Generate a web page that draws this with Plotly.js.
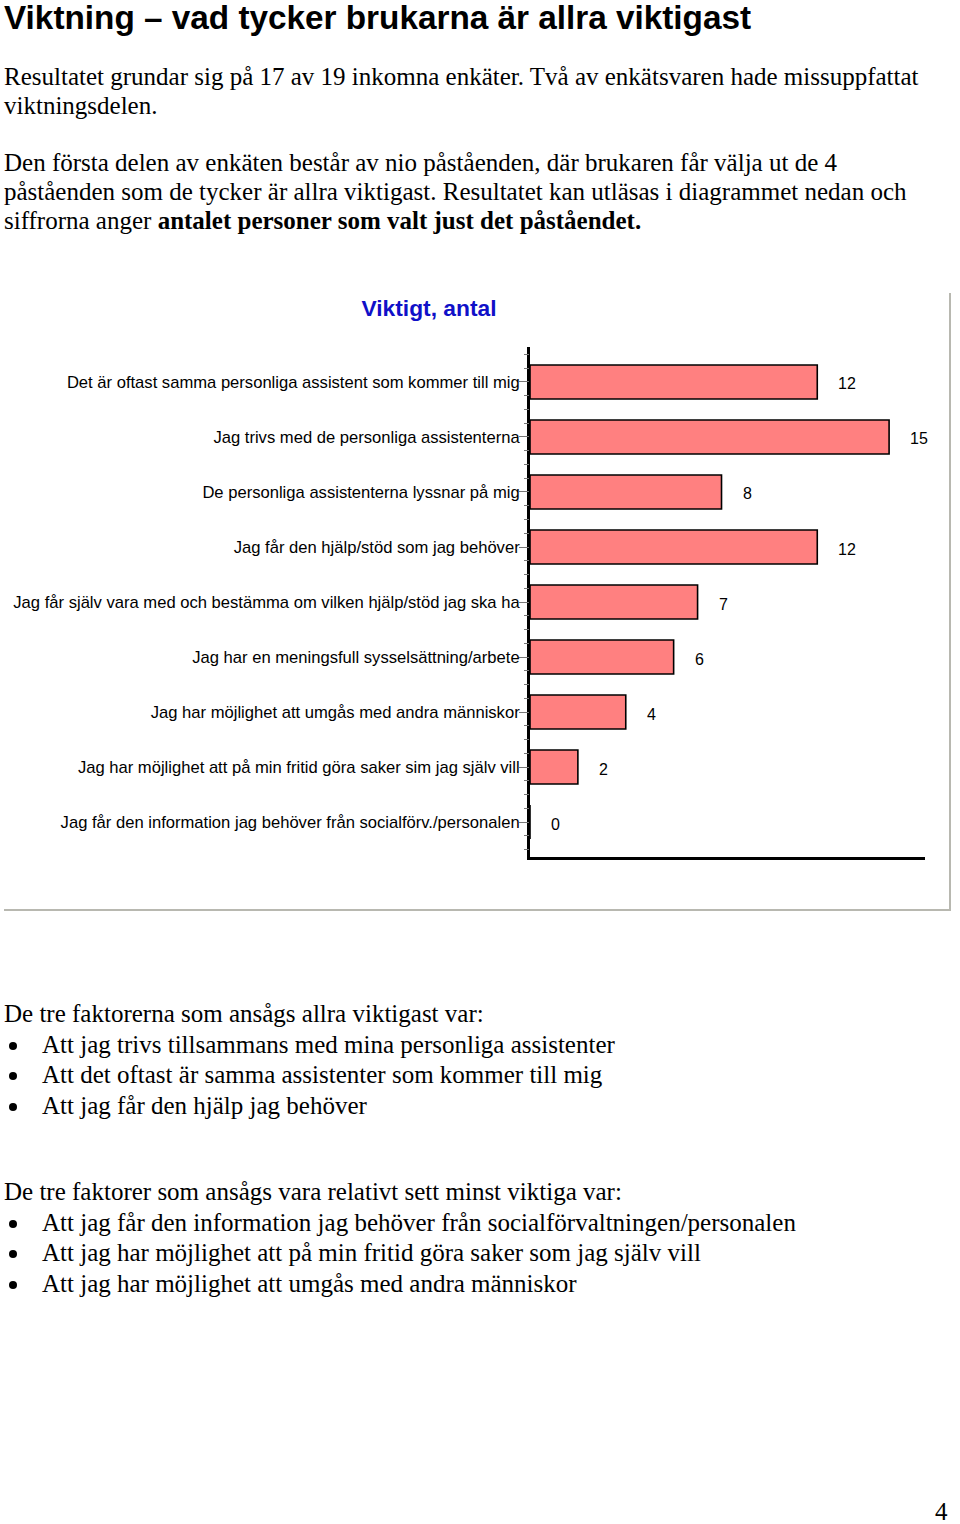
<!DOCTYPE html>
<html>
<head>
<meta charset="utf-8">
<script src="https://cdn.plot.ly/plotly-3.0.1.min.js"></script>
<style>
  body { margin: 0; width: 960px; height: 1524px; position: relative; background: #fff; overflow: hidden; }
  .txt { position: absolute; left: 4px; font-family: "Liberation Serif", "Times New Roman", serif; font-size: 25px; line-height: 29px; color: #000; white-space: nowrap; }
  .lst { line-height: 30.7px; }
  h1 { position: absolute; left: 4px; top: -2px; margin: 0; font-family: "Liberation Sans", Arial, sans-serif; font-size: 33.3px; line-height: 40px; font-weight: bold; white-space: nowrap; }
  ul { margin: 0; padding: 0; list-style: none; }
  ul li { position: relative; padding-left: 38px; }
  ul li:before { content: ""; position: absolute; left: 5px; top: 12px; width: 8px; height: 8px; border-radius: 50%; background: #000; }
  #frame { position: absolute; left: 4px; top: 293px; width: 945px; height: 616px; border-right: 2px solid #b8b8b0; border-bottom: 2px solid #b8b8b0; }
  #chart { position: absolute; left: 0; top: 280px; width: 960px; height: 640px; }
  #pagenr { position: absolute; left: 935px; top: 1498px; font-family: "Liberation Serif", serif; font-size: 25px; }
</style>
</head>
<body>
<h1>Viktning – vad tycker brukarna är allra viktigast</h1>
<div class="txt" style="top:62px">Resultatet grundar sig på 17 av 19 inkomna enkäter. Två av enkätsvaren hade missuppfattat<br>viktningsdelen.</div>
<div class="txt" style="top:148px">Den första delen av enkäten består av nio påståenden, där brukaren får välja ut de 4<br>påståenden som de tycker är allra viktigast. Resultatet kan utläsas i diagrammet nedan och<br>siffrorna anger <b>antalet personer som valt just det påståendet.</b></div>
<div id="frame"></div>
<div id="chart"></div>
<div class="txt lst" style="top:999px">De tre faktorerna som ansågs allra viktigast var:
<ul>
<li>Att jag trivs tillsammans med mina personliga assistenter</li>
<li>Att det oftast är samma assistenter som kommer till mig</li>
<li>Att jag får den hjälp jag behöver</li>
</ul></div>
<div class="txt lst" style="top:1177px">De tre faktorer som ansågs vara relativt sett minst viktiga var:
<ul>
<li>Att jag får den information jag behöver från socialförvaltningen/personalen</li>
<li>Att jag har möjlighet att på min fritid göra saker som jag själv vill</li>
<li>Att jag har möjlighet att umgås med andra människor</li>
</ul></div>
<div id="pagenr">4</div>
<script>
var statements = [
  'Det är oftast samma personliga assistent som kommer till mig',
  'Jag trivs med de personliga assistenterna',
  'De personliga assistenterna lyssnar på mig',
  'Jag får den hjälp/stöd som jag behöver',
  'Jag får själv vara med och bestämma om vilken hjälp/stöd jag ska ha',
  'Jag har en meningsfull sysselsättning/arbete',
  'Jag har möjlighet att umgås med andra människor',
  'Jag har möjlighet att på min fritid göra saker sim jag själv vill',
  'Jag får den information jag behöver från socialförv./personalen'
];
var antal = [12, 15, 8, 12, 7, 6, 4, 2, 0];

var labelFont = { family: 'Liberation Sans, Arial, sans-serif', size: 16.6, color: '#000' };
var yRange = [statements.length - 1 + 0.636, -0.636];

var data = [{
  type: 'bar',
  orientation: 'h',
  x: antal,
  y: statements,
  width: 0.62,
  marker: { color: '#ff8080', line: { color: '#000', width: 1.6 } },
  hoverinfo: 'x+y'
}];

// value labels to the right of each bar
var notes = antal.map(function (v, i) {
  return {
    x: v, y: statements[i], xref: 'x', yref: 'y',
    text: String(v), showarrow: false,
    xanchor: 'left', xshift: 19, yshift: -2,
    font: { family: labelFont.family, size: 16, color: '#000' }
  };
});

var layout = {
  width: 960,
  height: 640,
  margin: { l: 530, r: 35, t: 67, b: 63 },
  paper_bgcolor: 'rgba(0,0,0,0)',
  plot_bgcolor: 'rgba(0,0,0,0)',
  showlegend: false,
  title: {
    text: '<b>Viktigt, antal</b>',
    font: { family: 'Liberation Sans, Arial, sans-serif', size: 22.8, color: '#1010c8' },
    x: 429 / 960, xanchor: 'center', xref: 'container',
    y: 1 - 28 / 640, yanchor: 'middle', yref: 'container'
  },
  xaxis: {
    range: [0, 16.5],
    showgrid: false, zeroline: false,
    showline: true, linewidth: 3, linecolor: '#000',
    showticklabels: false, ticks: ''
  },
  yaxis: {
    type: 'category',
    range: yRange,
    showgrid: false, zeroline: false,
    showline: true, linewidth: 3, linecolor: '#000',
    ticks: 'outside', ticklen: 8, tickwidth: 1, tickcolor: '#777',
    ticklabelstandoff: -4,
    tickfont: labelFont
  },
  // quarter-step minor ticks along the category axis
  yaxis2: {
    overlaying: 'y', side: 'left', anchor: 'x',
    range: yRange,
    showgrid: false, zeroline: false, showline: false,
    tick0: 0, dtick: 0.25,
    ticks: 'outside', ticklen: 5, tickwidth: 1, tickcolor: '#777',
    showticklabels: false
  },
  annotations: notes
};

// invisible trace so the overlay axis is drawn
data.push({ type: 'scatter', x: [0], y: [0], yaxis: 'y2', mode: 'markers', marker: { opacity: 0 }, hoverinfo: 'skip' });

Plotly.newPlot('chart', data, layout, { displayModeBar: false, staticPlot: true });
</script>
</body>
</html>
